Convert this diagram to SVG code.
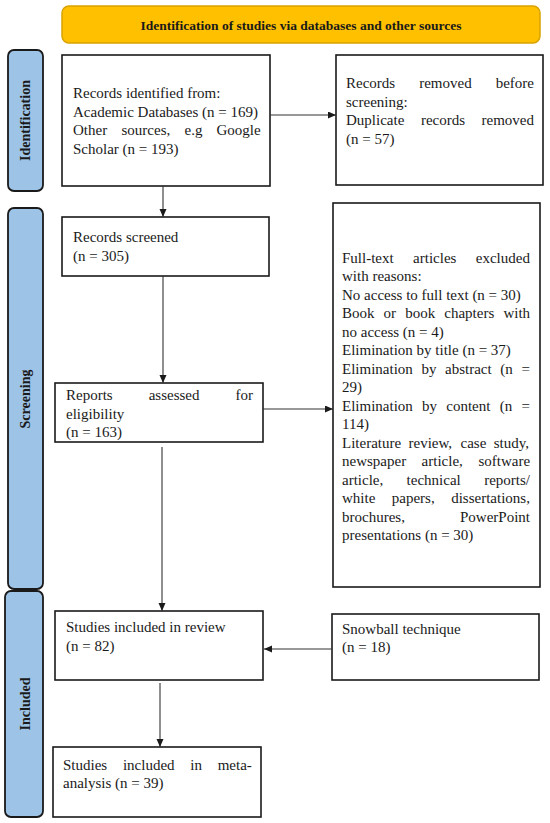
<svg xmlns="http://www.w3.org/2000/svg" width="550" height="823" viewBox="0 0 550 823">
<style>
.box{fill:#fff;stroke:#1a1a1a;stroke-width:1.6}
.side{fill:#9dc3e6;stroke:#1a1a1a;stroke-width:1.8}
.hdr{fill:#ffc000;stroke:#d9a300;stroke-width:1.5}
.t{font-family:"Liberation Serif","Times New Roman",serif;font-size:15px;fill:#1a1a1a}
.st{font-family:"Liberation Serif","Times New Roman",serif;font-size:14px;font-weight:bold;fill:#1a1a1a}
.ht{font-family:"Liberation Serif","Times New Roman",serif;font-size:13.5px;font-weight:bold;fill:#1a1a1a}
.c{fill:none;stroke:#333;stroke-width:1.1}
</style>
<defs>
<marker id="ah" markerUnits="userSpaceOnUse" markerWidth="9" markerHeight="8" refX="8" refY="3.5" orient="auto">
<path d="M0,0 L8,3.5 L0,7 z" fill="#1a1a1a"/>
</marker>
</defs>

<g id="header">
<rect class="hdr" x="62" y="6" width="478" height="37" rx="7"/>
<text class="ht" x="301" y="30" text-anchor="middle">Identification of studies via databases and other sources</text>
</g>

<g id="label-identification">
<rect class="side" x="8" y="50" width="35" height="141" rx="6"/>
<text class="st" transform="translate(30,120.5) rotate(-90)" text-anchor="middle">Identification</text>
</g>
<g id="label-screening">
<rect class="side" x="8" y="208" width="35" height="381" rx="6"/>
<text class="st" transform="translate(30,399) rotate(-90)" text-anchor="middle">Screening</text>
</g>
<g id="label-included">
<rect class="side" x="5" y="591" width="38" height="226" rx="6"/>
<text class="st" transform="translate(30,704) rotate(-90)" text-anchor="middle">Included</text>
</g>

<g id="records-identified">
<rect class="box" x="62" y="55" width="208" height="131"/>
<text class="t" x="73" y="98">Records identified from:</text>
<text class="t" x="73" y="116.5">Academic Databases (n = 169)</text>
<text class="t" y="135"><tspan x="73">Other</tspan><tspan x="121.5">sources,</tspan><tspan x="184.5">e.g</tspan><tspan x="216.5">Google</tspan></text>
<text class="t" x="73" y="153.5">Scholar (n = 193)</text>
</g>

<g id="records-removed">
<rect class="box" x="336" y="55" width="207" height="130"/>
<text class="t" y="88"><tspan x="346">Records</tspan><tspan x="419.2">removed</tspan><tspan x="495.7">before</tspan></text>
<text class="t" x="346" y="106.5">screening:</text>
<text class="t" y="125"><tspan x="346">Duplicate</tspan><tspan x="420.9">records</tspan><tspan x="481.5">removed</tspan></text>
<text class="t" x="346" y="143.5">(n = 57)</text>
</g>

<g id="records-screened">
<rect class="box" x="62" y="217" width="207" height="59"/>
<text class="t" x="73" y="242">Records screened</text>
<text class="t" x="73" y="260.5">(n = 305)</text>
</g>

<g id="reports-assessed">
<rect class="box" x="55" y="383" width="208" height="59"/>
<text class="t" y="400"><tspan x="66">Reports</tspan><tspan x="148.7">assessed</tspan><tspan x="235.5">for</tspan></text>
<text class="t" x="66" y="418.5">eligibility</text>
<text class="t" x="66" y="437">(n = 163)</text>
</g>

<g id="excluded">
<rect class="box" x="333" y="203" width="207" height="384"/>
<text class="t" y="262.5"><tspan x="342">Full-text</tspan><tspan x="413.1">articles</tspan><tspan x="475.8">excluded</tspan></text>
<text class="t" x="342" y="281">with reasons:</text>
<text class="t" x="342" y="299.5">No access to full text (n = 30)</text>
<text class="t" y="318"><tspan x="342">Book</tspan><tspan x="383.6">or</tspan><tspan x="405.2">book</tspan><tspan x="444.3">chapters</tspan><tspan x="503.4">with</tspan></text>
<text class="t" x="342" y="336.5">no access (n = 4)</text>
<text class="t" x="342" y="355">Elimination by title (n = 37)</text>
<text class="t" y="373.5"><tspan x="342">Elimination</tspan><tspan x="421.4">by</tspan><tspan x="445">abstract</tspan><tspan x="500.3">(n</tspan><tspan x="521.4">=</tspan></text>
<text class="t" x="342" y="392">29)</text>
<text class="t" y="410.5"><tspan x="342">Elimination</tspan><tspan x="422.1">by</tspan><tspan x="446.3">content</tspan><tspan x="499.8">(n</tspan><tspan x="521.5">=</tspan></text>
<text class="t" x="342" y="429">114)</text>
<text class="t" y="447.5"><tspan x="342">Literature</tspan><tspan x="408.5">review,</tspan><tspan x="460.5">case</tspan><tspan x="493.7">study,</tspan></text>
<text class="t" y="466"><tspan x="342">newspaper</tspan><tspan x="421.6">article,</tspan><tspan x="478.4">software</tspan></text>
<text class="t" y="484.5"><tspan x="342">article,</tspan><tspan x="406.6">technical</tspan><tspan x="484.2">reports/</tspan></text>
<text class="t" y="503"><tspan x="342">white</tspan><tspan x="391.8">papers,</tspan><tspan x="451.2">dissertations,</tspan></text>
<text class="t" y="521.5"><tspan x="342">brochures,</tspan><tspan x="460">PowerPoint</tspan></text>
<text class="t" x="342" y="540">presentations (n = 30)</text>
</g>

<g id="studies-included">
<rect class="box" x="55" y="611" width="208" height="69"/>
<text class="t" x="66" y="632">Studies included in review</text>
<text class="t" x="66" y="650.5">(n = 82)</text>
</g>

<g id="snowball">
<rect class="box" x="332" y="614" width="207" height="66"/>
<text class="t" x="342" y="633.5">Snowball technique</text>
<text class="t" x="342" y="652">(n = 18)</text>
</g>

<g id="meta-analysis">
<rect class="box" x="53" y="747" width="208" height="70"/>
<text class="t" y="769.5"><tspan x="63">Studies</tspan><tspan x="122.9">included</tspan><tspan x="190.3">in</tspan><tspan x="217.7">meta-</tspan></text>
<text class="t" x="63" y="788">analysis (n = 39)</text>
</g>

<g id="connectors">
<line class="c" x1="270" y1="115" x2="336" y2="115" marker-end="url(#ah)"/>
<line class="c" x1="163" y1="186" x2="163" y2="217" marker-end="url(#ah)"/>
<line class="c" x1="163" y1="276" x2="163" y2="383" marker-end="url(#ah)"/>
<line class="c" x1="263" y1="409" x2="333" y2="409" marker-end="url(#ah)"/>
<line class="c" x1="162" y1="447" x2="162" y2="611" marker-end="url(#ah)"/>
<line class="c" x1="332" y1="649" x2="264" y2="649" marker-end="url(#ah)"/>
<line class="c" x1="160" y1="683" x2="160" y2="747" marker-end="url(#ah)"/>
</g>
</svg>
